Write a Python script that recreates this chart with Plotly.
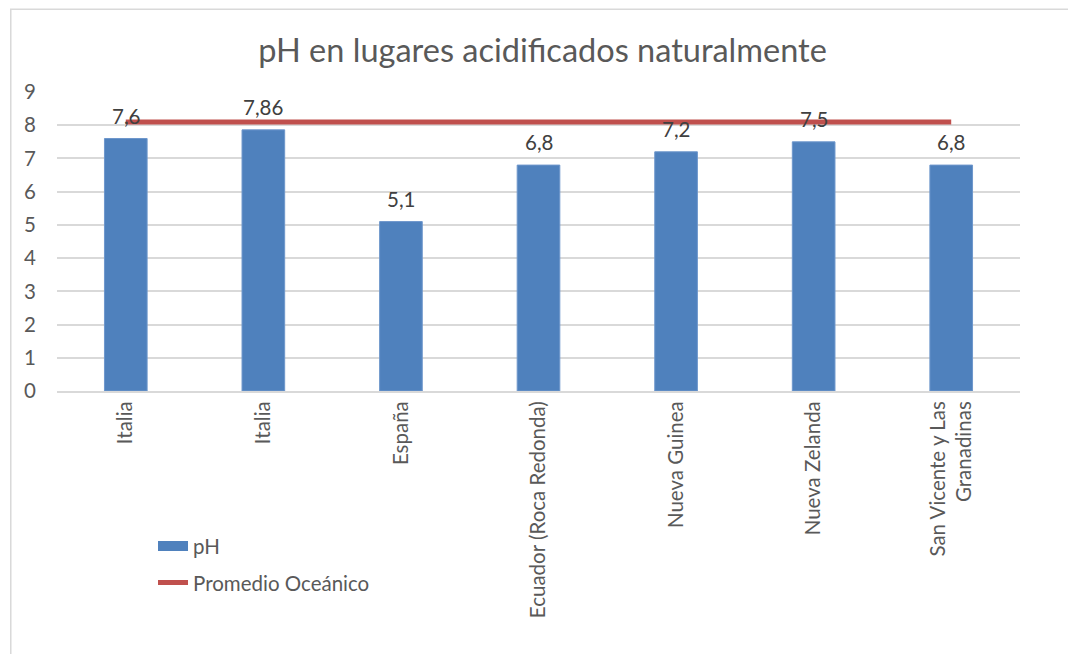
import plotly.graph_objects as go

categories = ["Italia", "Italia", "España", "Ecuador (Roca Redonda)", "Nueva Guinea",
              "Nueva Zelanda", "San Vicente y Las<br>Granadinas"]
ph_values = [7.6, 7.86, 5.1, 6.8, 7.2, 7.5, 6.8]
ocean_avg = [8.1] * 7
y_ticks = [0, 1, 2, 3, 4, 5, 6, 7, 8, 9]

positions = list(range(len(categories)))
FONT = "Lato, Carlito, Calibri, sans-serif"
GRAY = "#595959"
BLUE = "#4F81BD"
RED = "#C0504D"

fig = go.Figure()
fig.add_trace(go.Bar(
    x=positions, y=ph_values, name="pH", width=0.31,
    marker=dict(color=BLUE, line=dict(color="#6E97CC", width=1)),
    showlegend=False,
))
# legend entry for the bars (wide rectangle like the original)
fig.add_trace(go.Scatter(
    x=[None], y=[None], name="pH", mode="lines",
    line=dict(color=BLUE, width=13), legendgroup="a",
))
fig.add_trace(go.Scatter(
    x=positions, y=ocean_avg, name="Promedio Oceánico", mode="lines",
    line=dict(color=RED, width=5), legendgroup="b",
))

for xp, v in zip(positions, ph_values):
    fig.add_annotation(x=xp, y=v, text=str(v).replace(".", ","), showarrow=False,
                       yanchor="bottom", yshift=9,
                       font=dict(size=20.5, color="#404040", family=FONT))

fig.update_layout(
    width=1068, height=654,
    paper_bgcolor="white", plot_bgcolor="white",
    margin=dict(l=57, r=48, t=92, b=263),
    font=dict(family=FONT, color=GRAY, size=20),
    title=dict(text="pH en lugares acidificados naturalmente", x=0.508, xanchor="center",
               y=0.923, yanchor="middle", font=dict(size=32.5, color=GRAY, family=FONT)),
    showlegend=True,
    legend=dict(x=0.0997, y=-0.452, xanchor="left", yanchor="top",
                font=dict(size=20.5, color=GRAY, family=FONT),
                tracegroupgap=7, traceorder="grouped",
                bgcolor="rgba(0,0,0,0)"),
)
fig.update_xaxes(
    range=[-0.5, 6.5], tickmode="array", tickvals=positions, ticktext=categories,
    tickangle=-90, showgrid=False, zeroline=False, showline=True,
    linecolor="#D9D9D9", linewidth=2, ticks="", tickfont=dict(size=20.5, color=GRAY),
)
fig.update_yaxes(
    range=[0, 9], tickmode="array", tickvals=y_ticks,
    showgrid=True, gridcolor="#D9D9D9", gridwidth=2, zeroline=False,
    showline=False, ticks="", tickfont=dict(size=20.5, color=GRAY), ticklabelstandoff=20,
)
fig.add_shape(type="rect", xref="paper", yref="paper",
              x0=-0.048, x1=1.2, y0=-1.2, y1=1.277,
              line=dict(color="#D9D9D9", width=1.5), fillcolor="rgba(0,0,0,0)", layer="below")

fig.write_html("out.html", config={"displayModeBar": False},
               post_script="document.body.style.margin='0';")
